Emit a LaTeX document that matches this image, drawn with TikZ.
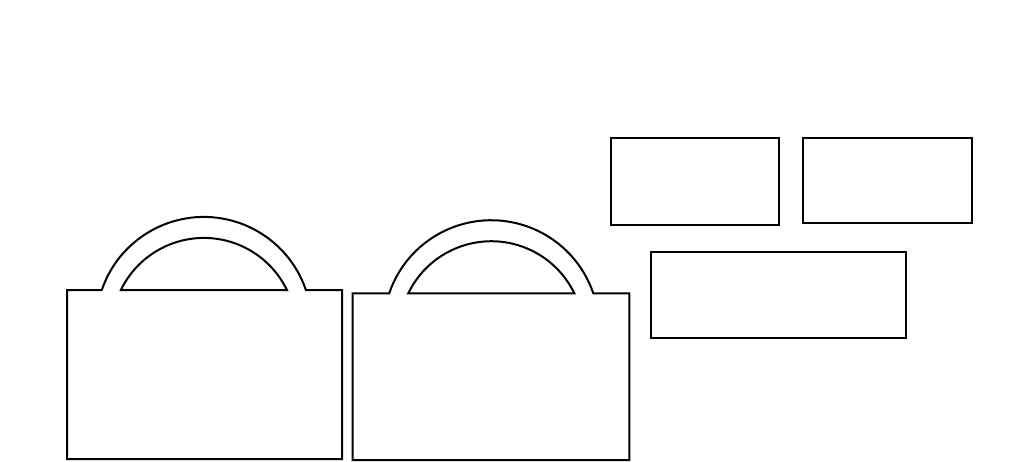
\documentclass[tikz,border=0pt]{standalone}
\usepackage{tikz}

\begin{document}
\begin{tikzpicture}[x=1pt,y=1pt,line width=2pt]
      \useasboundingbox (0,-461) rectangle (1021,0);
      \foreach \x/\y/\w/\h/\c in {67/-290/275/169/136.9, 352.7/-293.3/276.6/166.7/138.6}
      {
        \begin{scope}[shift={(\x,\y)}]
          \draw (0,-\h) -- (0,0) -- (\c-102.1,0)
                arc[start angle=161.2, end angle=18.8, radius=107.8]
                -- (\w,0) -- (\w,-\h) -- cycle;
          \draw (\c-83,0) arc[start angle=154.2, end angle=25.8, radius=92.2] -- cycle;
        \end{scope}
      }
      \draw (611,-138.3) rectangle (778.7,-225);
      \draw (803.3,-137.7) rectangle (971.7,-223.3);
      \draw (650.7,-251.7) rectangle (906,-338.3);
\end{tikzpicture}
\end{document}
